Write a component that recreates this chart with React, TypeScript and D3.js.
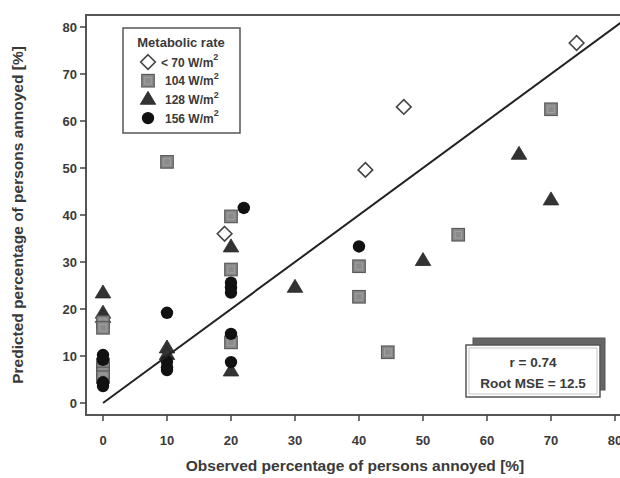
import React from "react";
import * as d3 from "d3";

const seriesNames = ["< 70 W/m", "104 W/m", "128 W/m", "156 W/m"];

const diamonds: [number, number][] = [
  [19, 36], [41, 49.6], [47, 63], [74, 76.6],
];
const squares: [number, number][] = [
  [0, 17.2], [0, 16], [0, 8.2], [0, 7.2], [0, 6.3], [0, 5.5],
  [10, 51.3], [20, 39.7], [20, 28.4], [20, 12.9],
  [40, 29.1], [40, 22.6], [44.5, 10.8], [55.5, 35.8], [70, 62.5],
];
const triangles: [number, number][] = [
  [0, 23.4], [0, 19.1], [0, 18.2],
  [10, 11.7], [10, 10.3], [20, 33.2], [20, 6.8],
  [30, 24.6], [50, 30.3], [65, 52.9], [70, 43.2],
];
const circles: [number, number][] = [
  [0, 10.2], [0, 9.2], [0, 4.4], [0, 3.6],
  [10, 19.2], [10, 8.8], [10, 7.6], [10, 7.0],
  [20, 25.6], [20, 24.5], [20, 23.5], [20, 14.7], [20, 8.7],
  [22, 41.5], [40, 33.3],
];
const xTicks = [0, 10, 20, 30, 40, 50, 60, 70, 80];
const yTicks = [0, 10, 20, 30, 40, 50, 60, 70, 80];
const statLines = ["r = 0.74", "Root MSE = 12.5"];
const xTitle = "Observed percentage of persons annoyed [%]";
const yTitle = "Predicted percentage of persons annoyed [%]";
const legendTitle = "Metabolic rate";

const FONT = "'Liberation Sans', Arial, sans-serif";

function Marker({ kind, cx, cy }: { kind: number; cx: number; cy: number }) {
  if (kind === 0) {
    const r = 7.3;
    return (
      <path
        d={`M${cx},${cy - r}L${cx + r},${cy}L${cx},${cy + r}L${cx - r},${cy}Z`}
        fill="#fff"
        stroke="#444"
        strokeWidth={1.6}
      />
    );
  }
  if (kind === 1) {
    const s = 12.5;
    return (
      <g>
        <rect x={cx - s / 2} y={cy - s / 2} width={s} height={s} fill="#8a8a8a" stroke="#5a5a5a" strokeWidth={1.2} />
        <rect x={cx - s / 2 + 3} y={cy - s / 2 + 3} width={s - 6} height={s - 6} fill="none" stroke="#a5a5a5" strokeWidth={0.8} />
      </g>
    );
  }
  if (kind === 2) {
    const h = 13;
    const w = 15.5;
    return (
      <path
        d={`M${cx},${cy - h * 0.62}L${cx + w / 2},${cy + h * 0.38}L${cx - w / 2},${cy + h * 0.38}Z`}
        fill="#333"
        stroke="#2a2a2a"
        strokeWidth={0.8}
      />
    );
  }
  return <circle cx={cx} cy={cy} r={6.2} fill="#111" />;
}

export default function App() {
  const x = d3.scaleLinear().domain([0, 80]).range([103, 615]);
  const y = d3.scaleLinear().domain([0, 80]).range([403, 27]);
  const frameLeft = 86;
  const frameTop = 15;
  const frameBottom = 415;
  const frameRight = 624;

  const all: [number, [number, number][]][] = [
    [2, triangles],
    [1, squares],
    [3, circles],
    [0, diamonds],
  ];

  const lineGen = d3.line<[number, number]>().x((d) => x(d[0])).y((d) => y(d[1]));
  const diag: [number, number][] = [[0, 0], [82, 82]];

  return (
    <svg
      width={620}
      height={478}
      style={{ position: "absolute", left: 0, top: 0, background: "#fff" }}
      fontFamily={FONT}
    >
      <defs>
        <clipPath id="plotclip">
          <rect x={frameLeft} y={frameTop} width={frameRight - frameLeft} height={frameBottom - frameTop} />
        </clipPath>
      </defs>
      <rect x={0} y={0} width={620} height={478} fill="#fff" />

      <g clipPath="url(#plotclip)">
        {all.map(([k, arr]) =>
          arr.map((d, i) => <Marker key={`${k}-${i}`} kind={k} cx={x(d[0])} cy={y(d[1])} />)
        )}
        <path d={lineGen(diag) || ""} stroke="#222" strokeWidth={2} fill="none" />
      </g>

      <rect
        x={frameLeft}
        y={frameTop}
        width={frameRight - frameLeft}
        height={frameBottom - frameTop}
        fill="none"
        stroke="#555"
        strokeWidth={2}
      />

      {yTicks.map((t) => (
        <g key={`y${t}`}>
          <line x1={frameLeft - 6} x2={frameLeft} y1={y(t)} y2={y(t)} stroke="#444" strokeWidth={1.5} />
          <text x={frameLeft - 9} y={y(t)} dy="0.36em" textAnchor="end" fontSize={13} fontWeight="bold" fill="#3a3a3a">
            {t}
          </text>
        </g>
      ))}
      {xTicks.map((t) => (
        <g key={`x${t}`}>
          <line x1={x(t)} x2={x(t)} y1={frameBottom} y2={frameBottom + 6} stroke="#444" strokeWidth={1.5} />
          <text x={x(t)} y={frameBottom + 30} textAnchor="middle" fontSize={13} fontWeight="bold" fill="#3a3a3a">
            {t}
          </text>
        </g>
      ))}

      <text x={355} y={471} textAnchor="middle" fontSize={15.5} fontWeight="bold" fill="#3a3a3a">
        {xTitle}
      </text>
      <text
        transform={`translate(23,${(frameTop + frameBottom) / 2}) rotate(-90)`}
        textAnchor="middle"
        fontSize={15.5}
        fontWeight="bold"
        fill="#3a3a3a"
      >
        {yTitle}
      </text>

      <g>
        <rect x={123} y={28} width={117} height={105} fill="#fff" stroke="#555" strokeWidth={1.5} />
        <text x={181} y={47} textAnchor="middle" fontSize={13} fontWeight="bold" fill="#3a3a3a">
          {legendTitle}
        </text>
        {seriesNames.map((n, i) => {
          const ry = 62 + i * 18.7;
          return (
            <g key={n}>
              <Marker kind={i} cx={148} cy={ry} />
              <text x={i === 0 ? 161 : 165} y={ry} dy="0.38em" fontSize={12} fontWeight="bold" fill="#3a3a3a">
                {n}
                <tspan fontSize={9} dy="-0.7em">2</tspan>
              </text>
            </g>
          );
        })}
      </g>

      <g>
        <rect x={473} y={338} width={132} height={52} fill="#666" stroke="#555" strokeWidth={1} />
        <rect x={466} y={345} width={134} height={52} fill="#fff" stroke="#555" strokeWidth={1.5} />
        <rect x={469} y={348} width={128} height={46} fill="none" stroke="#bbb" strokeWidth={0.8} />
        {statLines.map((s, i) => (
          <text key={s} x={533} y={362 + i * 21} dy="0.36em" textAnchor="middle" fontSize={13.5} fontWeight="bold" fill="#3a3a3a">
            {s}
          </text>
        ))}
      </g>
    </svg>
  );
}
